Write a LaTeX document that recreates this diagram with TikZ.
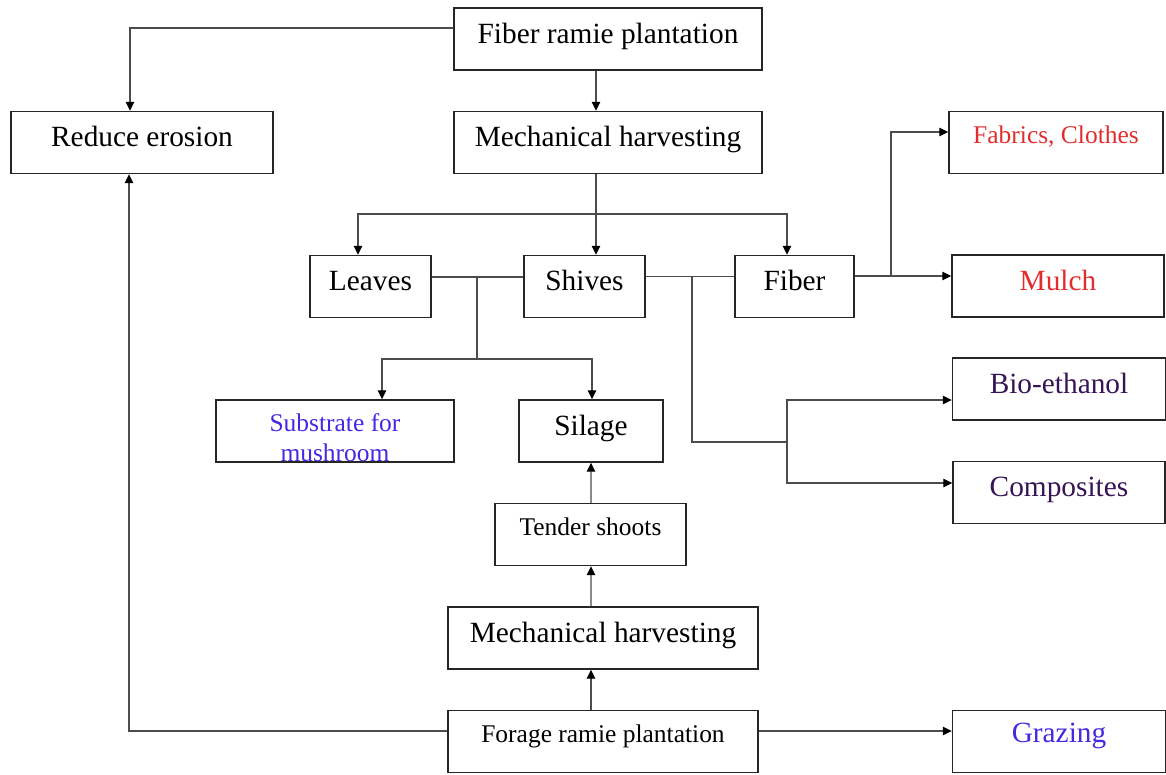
\documentclass[tikz,border=0pt]{standalone}
\usepackage{fontspec}
\setmainfont{Liberation Serif}
\usetikzlibrary{positioning, arrows.meta, calc}

\definecolor{prodred}{RGB}{225,45,45}
\definecolor{prodblue}{RGB}{70,40,225}
\definecolor{prodpurple}{RGB}{55,20,85}

\begin{document}
\begin{tikzpicture}[x=0.02cm, y=-0.02cm]
    \tikzset{
        box/.style={
                draw=black!85, line width=0.85pt, inner xsep=0pt, inner ysep=0pt,
                minimum height=1.24cm, text height=0.70cm, text depth=0.54cm,
                font=\fontsize{16.7}{20}\selectfont
            },
        small box/.style={
                box, text height=0.63cm, text depth=0.61cm,
                font=\fontsize{14.5}{17.4}\selectfont
            },
        link/.style={draw=black!70, line width=0.6pt},
        arrow/.style={link, -{Triangle[length=0.18cm, width=0.17cm, color=black]}}
    }
    \useasboundingbox (0,0) rectangle (1166,774);

    % fiber ramie branch
    \node[box, minimum width=6.16cm] (fiberplant) at (608,39) {Fiber ramie plantation};
    \node[box, minimum width=5.24cm] (erosion) at (142,142.5) {Reduce erosion};
    \node[box, minimum width=6.16cm] (mechtop) at (608,142.5) {Mechanical harvesting};
    \node[small box, minimum width=4.28cm, text=prodred] (fabrics) at (1056,142.5) {Fabrics, Clothes};

    \node[box, minimum width=2.42cm] (leaves) at (370.5,286.5) {Leaves};
    \node[box, minimum width=2.42cm] (shives) at (584.5,286.5) {Shives};
    \node[box, minimum width=2.38cm] (fiber) at (794.5,286.5) {Fiber};
    \node[box, minimum width=4.24cm, text=prodred] (mulch) at (1058,286) {Mulch};

    \node[small box, minimum width=4.76cm, text=prodblue, text height=0.62cm, text depth=0.62cm] (substrate) at (335,431)
        {\begin{tabular}[t]{@{}c@{}}Substrate for\\mushroom\end{tabular}};
    \node[box, minimum width=2.88cm] (silage) at (591,431) {Silage};
    \node[box, minimum width=4.26cm, text=prodpurple] (bioeth) at (1059,389) {Bio-ethanol};
    \node[box, minimum width=4.24cm, text=prodpurple] (composites) at (1059,492.5) {Composites};

    % forage ramie branch
    \node[small box, minimum width=3.82cm] (tender) at (590.5,534.5) {Tender shoots};
    \node[box, minimum width=6.20cm] (mechbot) at (603,638) {Mechanical harvesting};
    \node[small box, minimum width=6.20cm] (forage) at (603,741.5) {Forage ramie plantation};
    \node[box, minimum width=4.26cm, text=prodblue, text height=0.64cm, text depth=0.60cm] (grazing) at (1059,741.5) {Grazing};

    % junctions
    \coordinate (split) at (596,214);
    \coordinate (leafjoin) at (477,277);
    \coordinate (leafsplit) at (477,359);
    \coordinate (shivedrop) at (692,277);
    \coordinate (shivesplit) at (787,442);
    \coordinate (fibersplit) at (891,276);

    \draw[arrow] ($(fiberplant.west)+(0,-11)$) -| ($(erosion.north)+(-12,0)$);
    \draw[arrow] ($(fiberplant.south)+(-12,0)$) -- ($(mechtop.north)+(-12,0)$);
    \draw[link] ($(mechtop.south)+(-12,0)$) -- (split);
    \draw[arrow] (split) -| ($(leaves.north)+(-12.5,0)$);
    \draw[arrow] (split) -| ($(fiber.north)+(-7.5,0)$);
    \draw[arrow] (split) -- (split |- shives.north);

    \draw[link] ($(leaves.east)+(0,-9.5)$) -- ($(shives.west)+(0,-9.5)$);
    \draw[link] (leafjoin) -- (leafsplit);
    \draw[arrow] (leafsplit) -| ($(substrate.north)+(47,0)$);
    \draw[arrow] (leafsplit) -| ($(silage.north)+(1,0)$);

    \draw[link] ($(shives.east)+(0,-10)$) -- ($(fiber.west)+(0,-10)$);
    \draw[link] (shivedrop) |- (shivesplit);
    \draw[arrow] (shivesplit) |- ($(bioeth.west)+(0,11)$);
    \draw[arrow] (shivesplit) |- ($(composites.west)+(0,-9.5)$);

    \draw[link] ($(fiber.east)+(0,-10.5)$) -- (fibersplit);
    \draw[arrow] (fibersplit) -- (fibersplit -| mulch.west);
    \draw[arrow] (fibersplit) |- ($(fabrics.west)+(0,-10.5)$);

    \draw[arrow] ($(forage.west)+(0,-10.5)$) -| ($(erosion.south)+(-13,0)$);
    \draw[arrow] ($(forage.north)+(-12,0)$) -- ($(mechbot.south)+(-12,0)$);
    \draw[arrow] ($(mechbot.north)+(-12,0)$) -- ($(tender.south)+(0.5,0)$);
    \draw[arrow] ($(tender.north)+(0.5,0)$) -- (silage.south);
    \draw[arrow] ($(forage.east)+(0,-10.5)$) -- ($(grazing.west)+(0,-10.5)$);
\end{tikzpicture}
\end{document}
